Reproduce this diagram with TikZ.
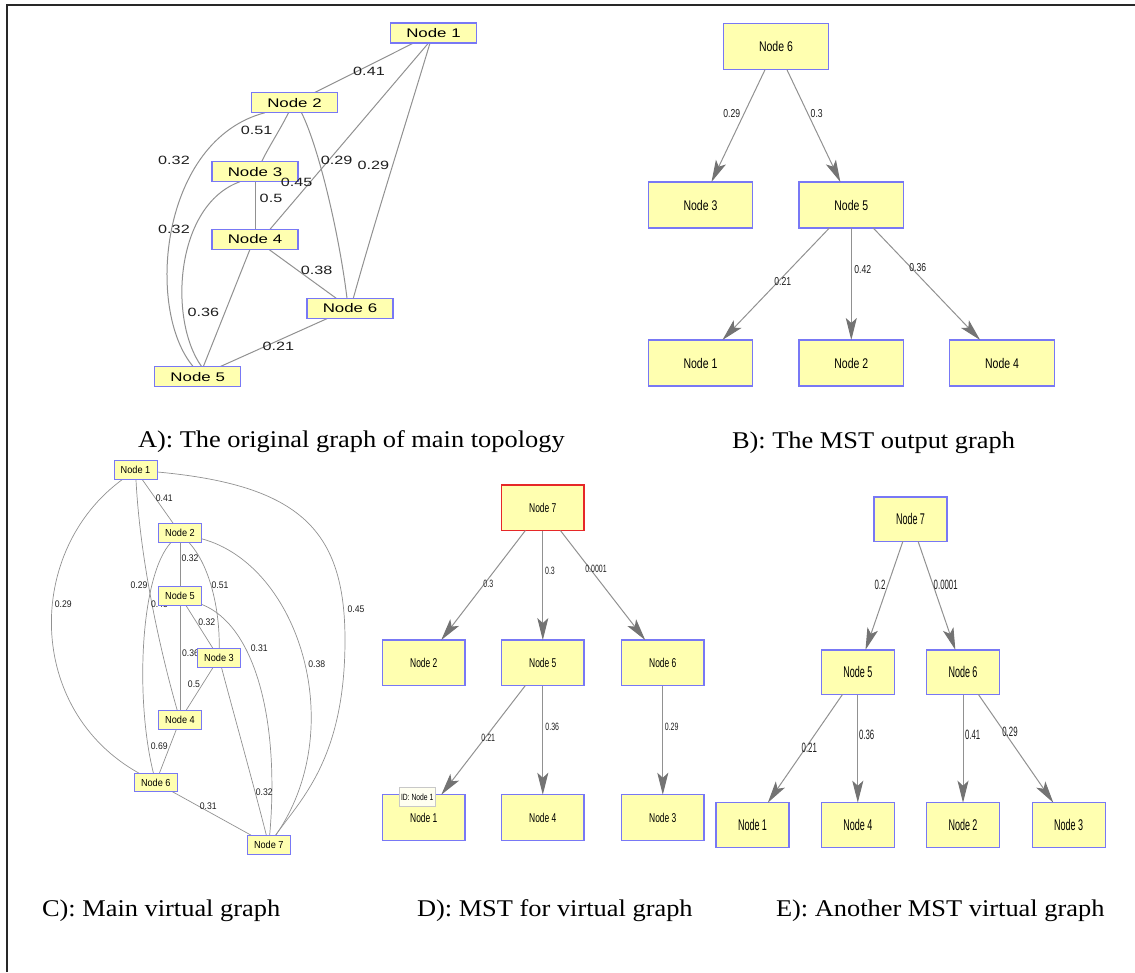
\documentclass[tikz,border=0pt]{standalone}
\usepackage{fontspec}
\setmainfont{Liberation Serif}
\newfontfamily\capfont[FakeStretch=1.1]{Liberation Serif}
\newfontfamily\fA[FakeStretch=1.35]{Liberation Sans}
\newfontfamily\fB[FakeStretch=0.75]{Liberation Sans}
\newfontfamily\fC[FakeStretch=0.9]{Liberation Sans}
\newfontfamily\fD[FakeStretch=0.66]{Liberation Sans}
\newfontfamily\fE[FakeStretch=0.58]{Liberation Sans}
\usetikzlibrary{arrows.meta,backgrounds}
\definecolor{nfill}{RGB}{255,255,176}
\definecolor{nblue}{RGB}{120,120,245}
\definecolor{ered}{RGB}{230,40,40}
\definecolor{egray}{RGB}{145,145,145}
\definecolor{agray}{RGB}{115,115,115}
\definecolor{ltxt}{RGB}{30,30,30}
\definecolor{framecol}{RGB}{40,40,40}
\definecolor{tipfill}{RGB}{255,255,240}
\definecolor{tipline}{RGB}{200,200,200}
\tikzset{
  every node/.style={inner sep=0pt, outer sep=0pt},
  nbox/.style={draw=nblue, fill=nfill, line width=1.2pt},
  nA/.style={nbox, minimum width=86pt, minimum height=20pt, font=\fA\fontsize{12.5}{13}\selectfont},
  lA/.style={text=ltxt, font=\fA\fontsize{12}{13}\selectfont},
  eA/.style={draw=egray, line width=1pt},
  nC/.style={nbox, line width=1pt, minimum width=43pt, minimum height=18.3pt, font=\fC\fontsize{10.2}{11}\selectfont},
  lC/.style={text=ltxt, font=\fC\fontsize{9.6}{10}\selectfont},
  eC/.style={draw=egray, line width=0.7pt},
  nB/.style={nbox, minimum width=104.5pt, minimum height=46pt, font=\fB\fontsize{14}{14}\selectfont},
  lB/.style={text=ltxt, font=\fB\fontsize{11.5}{12}\selectfont},
  nD/.style={nbox, minimum width=82.3pt, minimum height=45.5pt, font=\fD\fontsize{12.8}{13}\selectfont},
  lD/.style={text=ltxt, font=\fD\fontsize{10.6}{11}\selectfont},
  nE/.style={nbox, minimum width=73pt, minimum height=44.6pt, font=\fE\fontsize{15.5}{16}\selectfont},
  lE/.style={text=ltxt, font=\fE\fontsize{13.5}{14}\selectfont},
  arr/.style={draw=egray, line width=1pt, -{Stealth[length=22pt,width=11pt,inset=5pt,color=agray]}},
  capt/.style={anchor=base west, font=\capfont\fontsize{24}{26}\selectfont},
}
\begin{document}
\begin{tikzpicture}[x=1pt,y=-1pt]
\useasboundingbox (0,0) rectangle (1135,972);
\draw[line width=2pt, framecol] (7,972) -- (7,5) -- (1135,5);

% ---------------- Panel A ----------------
\node[nA] (a1) at (433.5,33) {Node 1};
\node[nA] (a2) at (294.5,102.7) {Node 2};
\node[nA] (a3) at (255,171.7) {Node 3};
\node[nA] (a4) at (255,239.3) {Node 4};
\node[nA] (a6) at (350,308.3) {Node 6};
\node[nA] (a5) at (197.7,376.7) {Node 5};
\begin{scope}[on background layer]
\draw[eA] (a1) -- (a2);
\draw[eA] ([xshift=-5pt]a1.south) -- ([xshift=15pt]a4.north);
\draw[eA] ([xshift=-3.5pt]a1.south) .. controls (410,110) and (375,220) .. ([xshift=3.3pt]a6.north);
\draw[eA] ([xshift=-29.5pt]a2.south) .. controls (160,140) and (145,310) .. ([xshift=-4.4pt]a5.north);
\draw[eA] ([xshift=-6pt]a2.south) .. controls (280,130) and (268,148) .. ([xshift=6.7pt]a3.north);
\draw[eA] ([xshift=7pt]a2.south) .. controls (320,150) and (340,240) .. ([xshift=-3pt]a6.north);
\draw[eA] (a3.south) -- (a4.north);
\draw[eA] ([xshift=-15pt]a3.south) .. controls (175,205) and (168,320) .. ([xshift=4pt]a5.north);
\draw[eA] ([xshift=-5pt]a4.south) -- ([xshift=5.6pt]a5.north);
\draw[eA] (a4) -- (a6);
\draw[eA] (a6) -- (a5);
\end{scope}
\node[lA] (la1) at (369,71.7) {0.41};
\node[lA] (la2) at (256.7,130) {0.51};
\node[lA] (la3) at (174,160.7) {0.32};
\node[lA] (la4) at (336.7,160.7) {0.29};
\node[lA] (la5) at (373.3,165) {0.29};
\node[lA] (la6) at (296.7,182) {0.45};
\node[lA] (la7) at (271,198.7) {0.5};
\node[lA] (la8) at (174,229) {0.32};
\node[lA] (la9) at (316.7,270) {0.38};
\node[lA] (la10) at (203.3,312.7) {0.36};
\node[lA] (la11) at (278.3,346.7) {0.21};

% ---------------- Panel B ----------------
\node[nB] (b6) at (776,46.7) {Node 6};
\node[nB] (b3) at (700.5,205) {Node 3};
\node[nB] (b5) at (851.3,205) {Node 5};
\node[nB] (b1) at (700.5,363) {Node 1};
\node[nB] (b2) at (851.3,363) {Node 2};
\node[nB] (b4) at (1002,363) {Node 4};
\draw[arr] (b6) -- (b3);
\draw[arr] (b6) -- (b5);
\draw[arr] (b5) -- (b1);
\draw[arr] (b5) -- (b2);
\draw[arr] (b5) -- (b4);
\node[lB] (lb1) at (731.7,114) {0.29};
\node[lB] (lb2) at (816.7,114) {0.3};
\node[lB] (lb3) at (782.7,281.7) {0.21};
\node[lB] (lb4) at (862.7,270) {0.42};
\node[lB] (lb5) at (917.7,267.3) {0.36};

% ---------------- Panel C ----------------
\node[nC] (c1) at (135.5,470) {Node 1};
\node[nC] (c2) at (180,533) {Node 2};
\node[nC] (c5) at (180,596) {Node 5};
\node[nC] (c3) at (219,658) {Node 3};
\node[nC] (c4) at (180,720) {Node 4};
\node[nC] (c6) at (155.8,782.5) {Node 6};
\node[nC] (c7) at (268.8,845) {Node 7};
\begin{scope}[on background layer]
\draw[eC] (c1) -- (c2);
\draw[eC] (c1) .. controls (300,485) and (345,530) .. (345,640) .. controls (345,760) and (300,800) .. (c7);
\draw[eC] (c1) .. controls (25,550) and (25,710) .. (c6);
\draw[eC] (c1) .. controls (140,560) and (160,650) .. (c4);
\draw[eC] (c2) .. controls (140,575) and (135,700) .. (c6);
\draw[eC] (c2) -- (c5);
\draw[eC] (c2) .. controls (210,565) and (220,610) .. (c3);
\draw[eC] (c2) .. controls (300,565) and (350,730) .. (c7);
\draw[eC] (c5) -- (c3);
\draw[eC] (c5) .. controls (255,625) and (280,720) .. (c7);
\draw[eC] (c5) -- (c4);
\draw[eC] (c3) -- (c4);
\draw[eC] (c3) .. controls (230,700) and (255,790) .. (c7);
\draw[eC] (c4) -- (c6);
\draw[eC] (c6) -- (c7);
\node[lC] (lc5) at (159.5,604) {0.45};
\node[lC] (lc11) at (190.5,653.3) {0.36};
\end{scope}
\node[lC] (lc1) at (164.3,497.7) {0.41};
\node[lC] (lc2) at (356,609) {0.45};
\node[lC] (lc3) at (63.3,604) {0.29};
\node[lC] (lc4) at (139,585) {0.29};
\node[lC] (lc6) at (190,558.3) {0.32};
\node[lC] (lc7) at (220,585) {0.51};
\node[lC] (lc8) at (316.7,664) {0.38};
\node[lC] (lc9) at (206.7,621.7) {0.32};
\node[lC] (lc10) at (259.3,647.7) {0.31};
\node[lC] (lc12) at (194,684.3) {0.5};
\node[lC] (lc13) at (264.3,791.7) {0.32};
\node[lC] (lc14) at (159.3,745.7) {0.69};
\node[lC] (lc15) at (208.3,805.7) {0.31};

% ---------------- Panel D ----------------
\node[nD, draw=ered, line width=1.6pt] (d7) at (542.8,507.8) {Node 7};
\node[nD] (d2) at (423.8,662.8) {Node 2};
\node[nD] (d5) at (542.8,662.8) {Node 5};
\node[nD] (d6) at (662.8,662.8) {Node 6};
\node[nD] (d1) at (423.8,817.5) {Node 1};
\node[nD] (d4) at (542.8,817.5) {Node 4};
\node[nD] (d3) at (662.8,817.5) {Node 3};
\draw[arr] (d7) -- (d2);
\draw[arr] (d7) -- (d5);
\draw[arr] (d7) -- (d6);
\draw[arr] (d5) -- (d1);
\draw[arr] (d5) -- (d4);
\draw[arr] (d6) -- (d3);
\node[lD] (ld1) at (488.3,584) {0.3};
\node[lD] (ld2) at (550,570.7) {0.3};
\node[lD] (ld3) at (596,569.3) {0.0001};
\node[lD] (ld4) at (488.3,738.3) {0.21};
\node[lD] (ld5) at (552.3,726.7) {0.36};
\node[lD] (ld6) at (671.7,726.7) {0.29};
\node[draw=tipline, fill=tipfill, line width=0.8pt, minimum width=35.7pt, minimum height=19.4pt,
      font=\fB\fontsize{9}{9}\selectfont] (tip) at (417.2,797) {ID: Node 1};

% ---------------- Panel E ----------------
\node[nE] (e7) at (910.5,519.2) {Node 7};
\node[nE] (e5) at (857.8,672.2) {Node 5};
\node[nE] (e6) at (963,672.2) {Node 6};
\node[nE] (e1) at (752.5,825) {Node 1};
\node[nE] (e4) at (857.8,825) {Node 4};
\node[nE] (e2) at (963,825) {Node 2};
\node[nE] (e3) at (1068.7,825) {Node 3};
\draw[arr] (e7) -- (e5);
\draw[arr] (e7) -- (e6);
\draw[arr] (e5) -- (e1);
\draw[arr] (e5) -- (e4);
\draw[arr] (e6) -- (e2);
\draw[arr] (e6) -- (e3);
\node[lE] (le1) at (880,585) {0.2};
\node[lE] (le2) at (945.7,585) {0.0001};
\node[lE] (le3) at (809.3,748.3) {0.21};
\node[lE] (le4) at (866.7,735) {0.36};
\node[lE] (le5) at (972.7,735) {0.41};
\node[lE] (le6) at (1010,731.7) {0.29};

% ---------------- Captions ----------------
\node[capt] (capA) at (138,447) {A): The original graph of main topology};
\node[capt] (capB) at (732,448) {B): The MST output graph};
\node[capt] (capC) at (42,916) {C): Main virtual graph};
\node[capt] (capD) at (417,916) {D): MST for virtual graph};
\node[capt] (capE) at (776,916) {E): Another MST virtual graph};
\end{tikzpicture}
\end{document}
